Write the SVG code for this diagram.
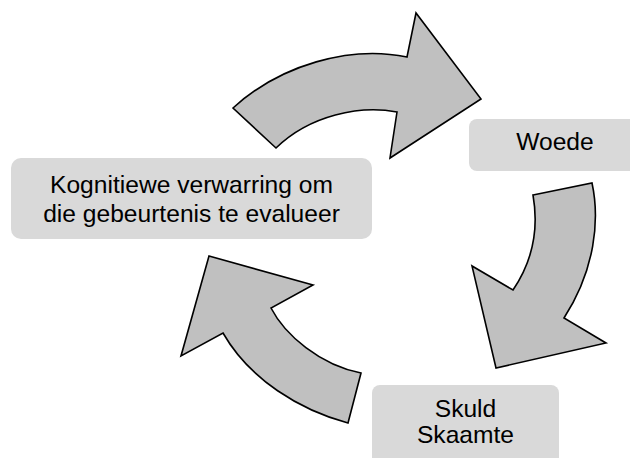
<svg xmlns="http://www.w3.org/2000/svg" width="630" height="458" viewBox="0 0 630 458">
<style>
.arrow{fill:#c0c0c0;stroke:#000;stroke-width:1.6;stroke-linejoin:miter}
.box{fill:#d9d9d9}
.lbl{font-family:"Liberation Sans",Arial,sans-serif;font-size:24.6px;fill:#000;text-anchor:middle}
</style>
<rect width="630" height="458" fill="#fff"/>
<g id="connectors">
<path id="arrow-top" class="arrow" d="M233,108 C280,65 350,45 407,57 L416,13 L481,99 L390,158 L397,112 C360,105 310,115 276,148 Z"/>
<path id="arrow-right" class="arrow" d="M533,195 L592,183 C600,220 595,270 564,318 L606,343 L496,368 L472,266 L513,290 C530,265 540,235 533,195 Z"/>
<path id="arrow-left" class="arrow" d="M209,256 L313,285 L271,308 C285,335 320,365 361,373 L348,423 C300,410 250,380 223,333 L181,356 Z"/>
</g>
<g id="node-woede">
<rect class="box" x="469" y="119" width="172" height="52" rx="8"/>
<text class="lbl" x="555" y="150">Woede</text>
</g>
<g id="node-kognitiewe">
<rect class="box" x="11" y="158" width="361" height="81" rx="10"/>
<text class="lbl" x="191.5" y="193">Kognitiewe verwarring om</text>
<text class="lbl" x="191.5" y="221.5">die gebeurtenis te evalueer</text>
</g>
<g id="node-skuld">
<rect class="box" x="372" y="385" width="187" height="90" rx="8"/>
<text class="lbl" x="465.5" y="417">Skuld</text>
<text class="lbl" x="465.5" y="443">Skaamte</text>
</g>
</svg>
